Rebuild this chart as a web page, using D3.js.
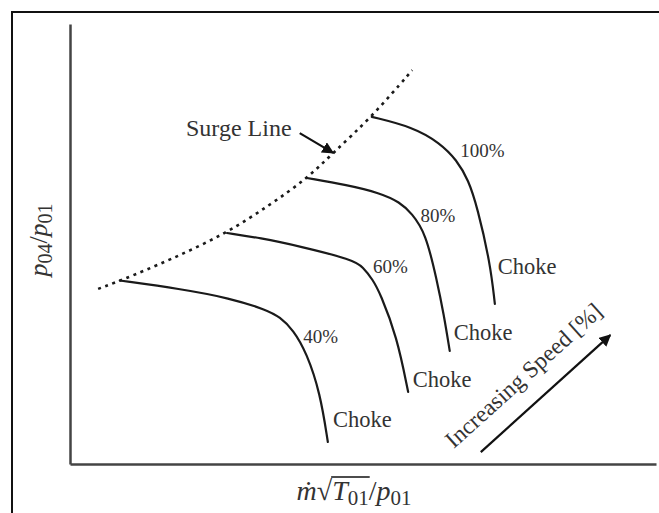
<!DOCTYPE html>
<html>
<head>
<meta charset="utf-8">
<script src="https://cdn.jsdelivr.net/npm/d3@7"></script>
<style>
  html, body { margin: 0; padding: 0; background: #fff; }
  svg { display: block; }
  text { font-family: "Liberation Serif", "DejaVu Serif", serif; fill: #333; }
</style>
</head>
<body>
<svg id="chart" width="659" height="513"></svg>
<script>
// Compressor map: constant-speed lines, surge line and choke labels.
// Units are arbitrary (0–100) for corrected mass flow and pressure ratio.

const speeds = ["40%", "60%", "80%", "100%"];

const flow40  = [8.5, 18.8, 27.3, 33.6, 35.8, 38.1, 40.4, 42.7, 44.0];
const ratio40 = [41.7, 39.8, 37.7, 35.0, 33.4, 30.5, 25.2, 16.1, 5.0];

const flow60  = [26.8, 32.4, 39.2, 48.3, 50.0, 51.7, 52.9, 55.8, 57.7];
const ratio60 = [52.5, 51.4, 49.5, 46.4, 44.8, 41.8, 38.9, 28.9, 16.4];

const flow80  = [40.4, 47.3, 52.9, 56.3, 58.3, 60.7, 62.6, 63.8, 64.8];
const ratio80 = [65.0, 63.4, 61.6, 59.5, 57.0, 52.5, 41.8, 33.9, 25.7];

const flow100  = [51.5, 58.5, 63.1, 66.0, 68.0, 69.5, 71.7, 72.5];
const ratio100 = [78.9, 76.6, 73.0, 69.1, 64.5, 58.4, 45.7, 36.4];

const surgeFlow  = [4.8, 8.5, 17.1, 26.8, 34.1, 40.4, 44.9, 51.5, 58.4];
const surgeRatio = [39.8, 41.6, 46.4, 52.5, 58.9, 64.8, 70.7, 78.9, 89.5];

// speed label anchors and choke label anchors (flow, ratio)
const speedLabelFlow  = [39.8, 51.7, 59.8, 66.6];
const speedLabelRatio = [27.5, 43.4, 55.0, 69.8];
const chokeLabelFlow  = [44.9, 58.5, 65.5, 73.0];
const chokeLabelRatio = [8.4, 17.5, 28.2, 43.2];

const svg = d3.select("#chart");
const W = 659, H = 513;

// frame around the figure
svg.append("rect")
  .attr("x", 12).attr("y", 12)
  .attr("width", W + 10).attr("height", H + 10)
  .attr("fill", "none").attr("stroke", "#111").attr("stroke-width", 2);

const x = d3.scaleLinear().domain([0, 100]).range([70, 656]);
const y = d3.scaleLinear().domain([0, 100]).range([464, 24]);

const defs = svg.append("defs");
defs.append("marker")
  .attr("id", "head").attr("viewBox", "0 0 10 10")
  .attr("refX", 9).attr("refY", 5)
  .attr("markerWidth", 12).attr("markerHeight", 12)
  .attr("markerUnits", "userSpaceOnUse")
  .attr("orient", "auto")
  .append("path").attr("d", "M0,0 L10,5 L0,10 Z").attr("fill", "#111");

// axes drawn as plain lines without ticks
const xAxis = d3.axisBottom(x).tickValues([]).tickSizeOuter(0);
const yAxis = d3.axisLeft(y).tickValues([]).tickSizeOuter(0);
svg.append("g").attr("transform", `translate(0,${y(0)})`).call(xAxis)
  .select(".domain").attr("stroke", "#444").attr("stroke-width", 2.5);
svg.append("g").attr("transform", `translate(${x(0)},0)`).call(yAxis)
  .select(".domain").attr("stroke", "#444").attr("stroke-width", 2.5);

const line = d3.line()
  .x(d => x(d[0])).y(d => y(d[1]))
  .curve(d3.curveBasis);

const series = [
  [flow40, ratio40], [flow60, ratio60], [flow80, ratio80], [flow100, ratio100]
].map(([f, r]) => f.map((v, i) => [v, r[i]]));

svg.append("g").selectAll("path").data(series).join("path")
  .attr("d", line)
  .attr("fill", "none").attr("stroke", "#1a1a1a").attr("stroke-width", 2.2)
  .attr("stroke-linecap", "round");

// surge line
svg.append("path")
  .datum(surgeFlow.map((v, i) => [v, surgeRatio[i]]))
  .attr("d", line)
  .attr("fill", "none").attr("stroke", "#1a1a1a").attr("stroke-width", 2.6)
  .attr("stroke-dasharray", "3,4.6");

// speed labels
svg.append("g").selectAll("text").data(speeds).join("text")
  .attr("x", (d, i) => x(speedLabelFlow[i]))
  .attr("y", (d, i) => y(speedLabelRatio[i]))
  .attr("font-size", 19)
  .text(d => d);

// choke labels
svg.append("g").selectAll("text").data(speeds).join("text")
  .attr("x", (d, i) => x(chokeLabelFlow[i]))
  .attr("y", (d, i) => y(chokeLabelRatio[i]))
  .attr("font-size", 22.5)
  .text("Choke");

// surge line annotation
svg.append("text").attr("x", x(19.8)).attr("y", y(74.5))
  .attr("font-size", 24).text("Surge Line");
svg.append("line")
  .attr("x1", x(39.2)).attr("y1", y(75.2))
  .attr("x2", x(44.9)).attr("y2", y(70.7))
  .attr("stroke", "#111").attr("stroke-width", 2.2)
  .attr("marker-end", "url(#head)");

// increasing speed arrow
const a0 = [70.1, 2.7], a1 = [92.2, 29.3];
svg.append("line")
  .attr("x1", x(a0[0])).attr("y1", y(a0[1]))
  .attr("x2", x(a1[0])).attr("y2", y(a1[1]))
  .attr("stroke", "#111").attr("stroke-width", 2.2)
  .attr("marker-end", "url(#head)");
const ang = Math.atan2(y(a1[1]) - y(a0[1]), x(a1[0]) - x(a0[0])) * 180 / Math.PI;
svg.append("text")
  .attr("transform", `translate(${x(65.5)},${y(3.4)}) rotate(${ang})`)
  .attr("font-size", 23.5)
  .text("Increasing Speed [%]");

// x-axis title: m-dot sqrt(T01) / p01
const xBase = 500;
const xt = svg.append("text")
  .attr("x", 354).attr("y", xBase)
  .attr("text-anchor", "middle")
  .attr("font-size", 28).attr("fill", "#111");
xt.append("tspan").attr("font-style", "italic").text("ṁ");
xt.append("tspan").text("√");
xt.append("tspan").attr("font-style", "italic").text("T");
xt.append("tspan").attr("font-size", 21).attr("dy", 5).text("01");
xt.append("tspan").attr("dy", -5).text("/");
xt.append("tspan").attr("font-style", "italic").text("p");
xt.append("tspan").attr("font-size", 21).attr("dy", 5).text("01");
// overbar of the radical, spanning T01
{
  const n = xt.node();
  const start = n.getStartPositionOfChar(2);
  const end = n.getEndPositionOfChar(4);
  svg.append("line")
    .attr("x1", start.x - 1).attr("x2", end.x + 1)
    .attr("y1", xBase - 23).attr("y2", xBase - 23)
    .attr("stroke", "#111").attr("stroke-width", 1.5);
}

// y-axis title: p04 / p01
const yt = svg.append("text")
  .attr("transform", "translate(47,240) rotate(-90)")
  .attr("text-anchor", "middle")
  .attr("font-size", 26).attr("fill", "#111");
yt.append("tspan").attr("font-style", "italic").text("p");
yt.append("tspan").attr("font-size", 20).attr("dy", 5).text("04");
yt.append("tspan").attr("dy", -5).text("/");
yt.append("tspan").attr("font-style", "italic").text("p");
yt.append("tspan").attr("font-size", 20).attr("dy", 5).text("01");
</script>
</body>
</html>
